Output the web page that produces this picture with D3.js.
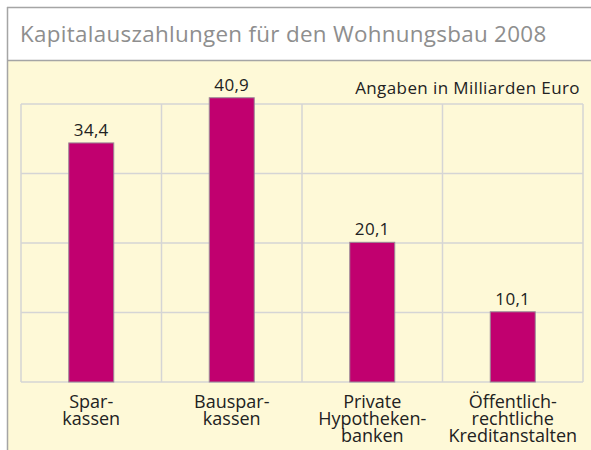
<!DOCTYPE html>
<html><head><meta charset="utf-8">
<script src="https://cdn.jsdelivr.net/npm/d3@7"></script>
<style>html,body{margin:0;padding:0;background:#fff;}svg{display:block;}</style>
</head><body>
<svg id="c" width="591" height="450"></svg>
<script>
const title = "Kapitalauszahlungen für den Wohnungsbau 2008";
const unitNote = "Angaben in Milliarden Euro";
const categories = ["Sparkassen","Bausparkassen","Private Hypothekenbanken","Öffentlich-rechtliche Kreditanstalten"];
const categoryLines = [["Spar-","kassen"],["Bauspar-","kassen"],["Private","Hypotheken-","banken"],["Öffentlich-","rechtliche","Kreditanstalten"]];
const values = [34.4, 40.9, 20.1, 10.1];
const valueLabels = ["34,4","40,9","20,1","10,1"];
const yTicks = [0, 10, 20, 30, 40];

const FONT = "'Open Sans', sans-serif";
const svg = d3.select("#c");
// panel background
svg.append("rect").attr("x",7).attr("y",60).attr("width",584).attr("height",390).attr("fill","#fef9d7");
svg.append("rect").attr("x",7).attr("y",7).attr("width",584).attr("height",53).attr("fill","#fff");
svg.append("line").attr("x1",7).attr("x2",591).attr("y1",7.5).attr("y2",7.5).attr("stroke","#a5a5a5").attr("stroke-width",1.5);
svg.append("line").attr("x1",7).attr("x2",591).attr("y1",60.5).attr("y2",60.5).attr("stroke","#a5a5a5").attr("stroke-width",1.5);
svg.append("line").attr("x1",7.5).attr("x2",7.5).attr("y1",7).attr("y2",450).attr("stroke","#a5a5a5").attr("stroke-width",1.5);

svg.append("text").attr("x",20).attr("y",41.5).attr("font-family",FONT).attr("font-size",22.4)
  .attr("letter-spacing",0.3).attr("fill","#8e8e8e").text(title);
svg.append("text").attr("x",580).attr("y",94).attr("text-anchor","end").attr("font-family",FONT)
  .attr("font-size",17).attr("letter-spacing",0.4).attr("fill","#222").text(unitNote);

const x = d3.scaleBand().domain(categories).range([21, 583]).paddingInner(0).paddingOuter(0);
const y = d3.scaleLinear().domain([0, 40]).range([382, 104]);

const g = svg.append("g");
// horizontal gridlines
g.selectAll("line.h").data(yTicks).join("line").attr("class","h")
  .attr("x1",21).attr("x2",583).attr("y1",d=>y(d)).attr("y2",d=>y(d))
  .attr("stroke","#d5d5d5").attr("stroke-width",1.5);
// vertical gridlines
const vx = categories.map(c=>x(c)).concat([583]);
g.selectAll("line.v").data(vx).join("line").attr("class","v")
  .attr("x1",d=>d).attr("x2",d=>d).attr("y1",y(40)).attr("y2",y(0))
  .attr("stroke","#d5d5d5").attr("stroke-width",1.5);

const bw = 45;
g.selectAll("rect.bar").data(values).join("rect").attr("class","bar")
  .attr("x",(d,i)=>x(categories[i]) + x.bandwidth()/2 - bw/2)
  .attr("y",d=>y(d)).attr("width",bw).attr("height",d=>y(0)-y(d))
  .attr("fill","#c1006f").attr("stroke","#9a8a96").attr("stroke-width",1);

g.selectAll("text.val").data(values).join("text").attr("class","val")
  .attr("x",(d,i)=>x(categories[i]) + x.bandwidth()/2)
  .attr("y",d=>y(d)-7).attr("text-anchor","middle").attr("font-family",FONT)
  .attr("font-size",17).attr("letter-spacing",0.3).attr("fill","#222").text((d,i)=>valueLabels[i]);

categories.forEach((c,i)=>{
  categoryLines[i].forEach((ln,j)=>{
    g.append("text").attr("text-anchor","middle").attr("font-family",FONT)
      .attr("font-size",18).attr("fill","#222")
      .attr("x", x(c)+x.bandwidth()/2).attr("y", 408 + j*17).text(ln);
  });
});
</script>
</body></html>
